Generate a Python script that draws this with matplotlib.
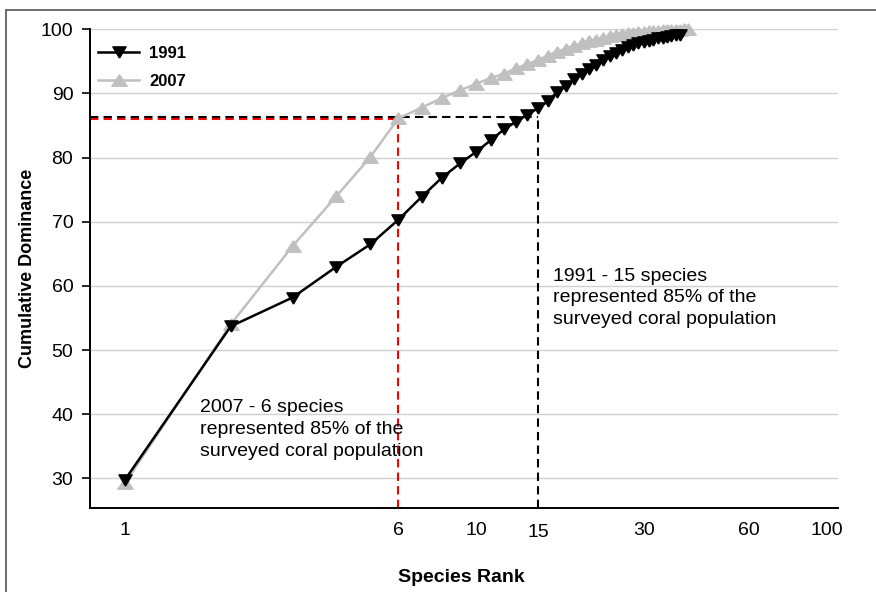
import matplotlib
matplotlib.use("Agg")
import matplotlib.pyplot as plt
from matplotlib.patches import Rectangle
from matplotlib.ticker import FixedLocator, NullLocator
from matplotlib.transforms import ScaledTranslation

plt.rcParams['font.family'] = ['Liberation Sans', 'DejaVu Sans']

# cumulative dominance (%) by species rank
dom_1991 = [29.8, 53.7, 58.2, 63.0, 66.5, 70.3, 73.9, 76.9, 79.1, 80.9,
            82.7, 84.4, 85.6, 86.7, 87.7, 88.8, 90.2, 91.2, 92.2, 93.0,
            93.8, 94.5, 95.2, 95.8, 96.3, 96.8, 97.2, 97.5, 97.8, 98.0,
            98.2, 98.4, 98.6, 98.7, 98.85, 98.95, 99.05, 99.15]
dom_2007 = [29.3, 54.0, 66.2, 74.0, 80.1, 86.1, 87.8, 89.3, 90.5, 91.5,
            92.4, 93.1, 93.9, 94.6, 95.2, 95.9, 96.5, 97.0, 97.4, 97.8,
            98.1, 98.4, 98.7, 98.9, 99.1, 99.25, 99.4, 99.5, 99.6, 99.65,
            99.7, 99.75, 99.8, 99.83, 99.86, 99.89, 99.92, 99.95, 99.98, 100.0]
rank_1991 = list(range(1, len(dom_1991) + 1))
rank_2007 = list(range(1, len(dom_2007) + 1))

x_ticks = [1, 6, 10, 15, 30, 60, 100]
y_ticks = [30, 40, 50, 60, 70, 80, 90, 100]

# 85% cut-offs
cut_1991 = (15, 86.4)
cut_2007 = (6, 86.0)

# flattened triangles (wider than tall)
tri_up = [(0, 0.75), (-1, -0.75), (1, -0.75), (0, 0.75)]
tri_down = [(0, -0.85), (-1, 0.85), (1, 0.85), (0, -0.85)]

fig = plt.figure(figsize=(8.76, 5.92), dpi=100)
ax = fig.add_axes([90/876, 1 - 508/592, 748/876, (508 - 29.3)/592])

ax.set_xscale('log')
ax.set_xlim(0.795, 107.3)
ax.set_ylim(25.4, 100)

ax.yaxis.set_major_locator(FixedLocator(y_ticks))
ax.grid(axis='y', color='#d0d0d0', lw=1)
ax.set_axisbelow(True)

ax.xaxis.set_major_locator(FixedLocator(x_ticks))
ax.xaxis.set_minor_locator(NullLocator())
ax.set_xticklabels([str(t) for t in x_ticks])
ax.tick_params(axis='x', length=0, pad=10, labelsize=14)
ax.tick_params(axis='y', length=6, width=1.2, pad=6, labelsize=14)

# the "15" label sits a little lower than the rest
lbl15 = ax.get_xticklabels()[x_ticks.index(15)]
lbl15.set_transform(lbl15.get_transform() + ScaledTranslation(0, -2/100, fig.dpi_scale_trans))

for s in ['top', 'right']:
    ax.spines[s].set_visible(False)
for s in ['left', 'bottom']:
    ax.spines[s].set_linewidth(1.4)

# dashed guide lines
xmin, xmax = ax.get_xlim()
ymin = ax.get_ylim()[0]
ax.plot([xmin, cut_1991[0]], [cut_1991[1], cut_1991[1]], color='black', lw=1.5, ls=(0, (4, 2.5)), zorder=2)
ax.plot([cut_1991[0], cut_1991[0]], [ymin, cut_1991[1]], color='black', lw=1.5, ls=(0, (4, 2.5)), zorder=2)
ax.plot([xmin, cut_2007[0]], [cut_2007[1], cut_2007[1]], color='#ff0000', lw=1.5, ls=(0, (4, 2.5)), zorder=2)
ax.plot([cut_2007[0], cut_2007[0]], [ymin, cut_2007[1]], color='#ff0000', lw=1.5, ls=(0, (4, 2.5)), zorder=2)

ax.plot(rank_2007, dom_2007, color='#c0c0c0', lw=1.8, marker=tri_up, ms=11,
        mec='#c0c0c0', mfc='#c0c0c0', label='2007', clip_on=False, zorder=3)
ax.plot(rank_1991, dom_1991, color='black', lw=1.8, marker=tri_down, ms=9.5,
        mec='black', mfc='black', label='1991', clip_on=False, zorder=4)

handles, labels = ax.get_legend_handles_labels()
leg = ax.legend(handles[::-1], labels[::-1], loc='upper left', bbox_to_anchor=(0.0, 0.982),
                frameon=False, borderpad=0, handlelength=2.45, handletextpad=0.6,
                labelspacing=0.75, prop={'weight': 'bold', 'size': 12})

ax.text(0.619, 0.502, '1991 - 15 species\nrepresented 85% of the\nsurveyed coral population',
        transform=ax.transAxes, va='top', ha='left', fontsize=14, linespacing=1.35)
ax.text(0.147, 0.227, '2007 - 6 species\nrepresented 85% of the\nsurveyed coral population',
        transform=ax.transAxes, va='top', ha='left', fontsize=14, linespacing=1.38)

ax.set_ylabel('Cumulative Dominance', fontsize=13, fontweight='bold')
ax.yaxis.set_label_coords(-0.072, 0.5)
ax.set_xlabel('Species Rank', fontsize=14, fontweight='bold')
ax.xaxis.set_label_coords(0.496, -0.128)

# chart border
fig.add_artist(Rectangle((6/876, -0.05), 1.0, 1 - 10/592 + 0.05, transform=fig.transFigure,
                         fill=False, edgecolor='#555555', lw=1.2))

fig.savefig('out.png', dpi=100)
